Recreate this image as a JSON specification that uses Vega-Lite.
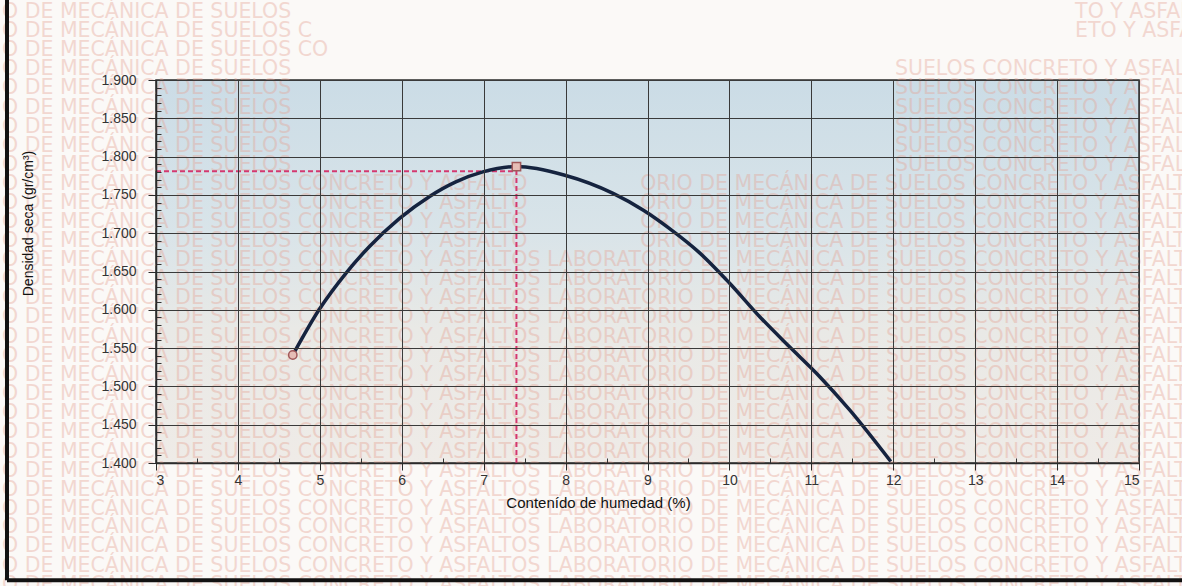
{
  "$schema": "https://vega.github.io/schema/vega-lite/v6.json",
  "width": 983,
  "height": 383,
  "autosize": {"type": "none"},
  "padding": {"left": 156, "top": 80, "right": 43, "bottom": 123},
  "background": "#fbf9f7",
  "config": {
    "view": {
      "fill": {
        "gradient": "linear", "x1": 0, "y1": 0, "x2": 0, "y2": 1,
        "stops": [
          {"offset": 0, "color": "#cbdce6"},
          {"offset": 0.4, "color": "#d9e4e9"},
          {"offset": 0.65, "color": "#e9e9e6"},
          {"offset": 1, "color": "#efebe7"}
        ]
      },
      "stroke": "#2b2b2b",
      "strokeWidth": 1.5
    }
  },
  "datasets": {
    "curva": [
      {"humedad": 4.67, "densidad": 1.541},
      {"humedad": 4.99, "densidad": 1.600},
      {"humedad": 5.32, "densidad": 1.648},
      {"humedad": 5.60, "densidad": 1.682},
      {"humedad": 5.97, "densidad": 1.719},
      {"humedad": 6.34, "densidad": 1.748},
      {"humedad": 6.66, "densidad": 1.767},
      {"humedad": 6.99, "densidad": 1.780},
      {"humedad": 7.40, "densidad": 1.787},
      {"humedad": 7.98, "densidad": 1.776},
      {"humedad": 8.58, "densidad": 1.752},
      {"humedad": 8.95, "densidad": 1.730},
      {"humedad": 9.27, "densidad": 1.706},
      {"humedad": 9.64, "densidad": 1.674},
      {"humedad": 10.00, "densidad": 1.635},
      {"humedad": 10.37, "densidad": 1.591},
      {"humedad": 10.74, "densidad": 1.551},
      {"humedad": 11.10, "densidad": 1.513},
      {"humedad": 11.47, "densidad": 1.469},
      {"humedad": 11.97, "densidad": 1.402}
    ],
    "puntos": [
      {"humedad": 4.67, "densidad": 1.541, "tipo": "inicio"},
      {"humedad": 7.40, "densidad": 1.787, "tipo": "máximo"}
    ],
    "guias": [
      {"x1": 3.0, "x2": 7.40, "y1": 1.781, "y2": 1.781},
      {"x1": 7.40, "x2": 7.40, "y1": 1.400, "y2": 1.787}
    ],
    "marco": [
      {"x1": 1.181, "x2": 1.181, "y1": 2.01, "y2": 1.247},
      {"x1": 1.181, "x2": 15.62, "y1": 1.247, "y2": 1.247}
    ],
    "sello": [
      {"x": 1.12, "y": 1.989, "t": "O DE MECÁNICA DE SUELOS"},
      {"x": 14.22, "y": 1.989, "t": "TO Y ASFALTOS"},
      {"x": 1.12, "y": 1.964, "t": "O DE MECÁNICA DE SUELOS C"},
      {"x": 14.22, "y": 1.964, "t": "ETO Y ASFALTOS"},
      {"x": 1.12, "y": 1.939, "t": "O DE MECÁNICA DE SUELOS CO"},
      {"x": 1.12, "y": 1.914, "t": "O DE MECÁNICA DE SUELOS"},
      {"x": 12.02, "y": 1.914, "t": "SUELOS CONCRETO Y ASFALTOS"},
      {"x": 1.12, "y": 1.889, "t": "O DE MECÁNICA DE SUELOS"},
      {"x": 12.02, "y": 1.889, "t": "SUELOS CONCRETO Y ASFALTOS"},
      {"x": 1.12, "y": 1.864, "t": "O DE MECÁNICA DE SUELOS"},
      {"x": 12.02, "y": 1.864, "t": "SUELOS CONCRETO Y ASFALTOS"},
      {"x": 1.12, "y": 1.839, "t": "O DE MECÁNICA DE SUELOS"},
      {"x": 12.02, "y": 1.839, "t": "SUELOS CONCRETO Y ASFALTOS"},
      {"x": 1.12, "y": 1.814, "t": "O DE MECÁNICA DE SUELOS"},
      {"x": 12.02, "y": 1.814, "t": "SUELOS CONCRETO Y ASFALTOS"},
      {"x": 1.12, "y": 1.789, "t": "O DE MECÁNICA DE SUELOS"},
      {"x": 12.02, "y": 1.789, "t": "SUELOS CONCRETO Y ASFALTOS"},
      {"x": 1.12, "y": 1.764, "t": "O DE MECÁNICA DE SUELOS CONCRETO Y ASFALTO"},
      {"x": 8.91, "y": 1.764, "t": "ORIO DE MECÁNICA DE SUELOS CONCRETO Y ASFALTOS"},
      {"x": 1.12, "y": 1.739, "t": "O DE MECÁNICA DE SUELOS CONCRETO Y ASFALTO"},
      {"x": 8.91, "y": 1.739, "t": "ORIO DE MECÁNICA DE SUELOS CONCRETO Y ASFALTOS"},
      {"x": 1.12, "y": 1.715, "t": "O DE MECÁNICA DE SUELOS CONCRETO Y ASFALTO"},
      {"x": 8.91, "y": 1.715, "t": "ORIO DE MECÁNICA DE SUELOS CONCRETO Y ASFALTOS"},
      {"x": 1.12, "y": 1.690, "t": "O DE MECÁNICA DE SUELOS CONCRETO Y ASFALTO"},
      {"x": 8.91, "y": 1.690, "t": "ORIO DE MECÁNICA DE SUELOS CONCRETO Y ASFALTOS"},
      {"x": 1.12, "y": 1.665, "t": "O DE MECÁNICA DE SUELOS CONCRETO Y ASFALTOS LABORATORIO DE MECÁNICA DE SUELOS CONCRETO Y ASFALTOS"},
      {"x": 1.12, "y": 1.640, "t": "O DE MECÁNICA DE SUELOS CONCRETO Y ASFALTOS LABORATORIO DE MECÁNICA DE SUELOS CONCRETO Y ASFALTOS"},
      {"x": 1.12, "y": 1.615, "t": "O DE MECÁNICA DE SUELOS CONCRETO Y ASFALTOS LABORATORIO DE MECÁNICA DE SUELOS CONCRETO Y ASFALTOS"},
      {"x": 1.12, "y": 1.590, "t": "O DE MECÁNICA DE SUELOS CONCRETO Y ASFALTOS LABORATORIO DE MECÁNICA DE SUELOS CONCRETO Y ASFALTOS"},
      {"x": 1.12, "y": 1.565, "t": "O DE MECÁNICA DE SUELOS CONCRETO Y ASFALTOS LABORATORIO DE MECÁNICA DE SUELOS CONCRETO Y ASFALTOS"},
      {"x": 1.12, "y": 1.540, "t": "O DE MECÁNICA DE SUELOS CONCRETO Y ASFALTOS LABORATORIO DE MECÁNICA DE SUELOS CONCRETO Y ASFALTOS"},
      {"x": 1.12, "y": 1.515, "t": "O DE MECÁNICA DE SUELOS CONCRETO Y ASFALTOS LABORATORIO DE MECÁNICA DE SUELOS CONCRETO Y ASFALTOS"},
      {"x": 1.12, "y": 1.490, "t": "O DE MECÁNICA DE SUELOS CONCRETO Y ASFALTOS LABORATORIO DE MECÁNICA DE SUELOS CONCRETO Y ASFALTOS"},
      {"x": 1.12, "y": 1.465, "t": "O DE MECÁNICA DE SUELOS CONCRETO Y ASFALTOS LABORATORIO DE MECÁNICA DE SUELOS CONCRETO Y ASFALTOS"},
      {"x": 1.12, "y": 1.440, "t": "O DE MECÁNICA DE SUELOS CONCRETO Y ASFALTOS LABORATORIO DE MECÁNICA DE SUELOS CONCRETO Y ASFALTOS"},
      {"x": 1.12, "y": 1.415, "t": "O DE MECÁNICA DE SUELOS CONCRETO Y ASFALTOS LABORATORIO DE MECÁNICA DE SUELOS CONCRETO Y ASFALTOS"},
      {"x": 1.12, "y": 1.390, "t": "O DE MECÁNICA DE SUELOS CONCRETO Y ASFALTOS LABORATORIO DE MECÁNICA DE SUELOS CONCRETO Y ASFALTOS"},
      {"x": 1.12, "y": 1.365, "t": "O DE MECÁNICA DE SUELOS CONCRETO Y ASFALTOS LABORATORIO DE MECÁNICA DE SUELOS CONCRETO Y ASFALTOS"},
      {"x": 1.12, "y": 1.340, "t": "O DE MECÁNICA DE SUELOS CONCRETO Y ASFALTOS LABORATORIO DE MECÁNICA DE SUELOS CONCRETO Y ASFALTOS"},
      {"x": 1.12, "y": 1.316, "t": "O DE MECÁNICA DE SUELOS CONCRETO Y ASFALTOS LABORATORIO DE MECÁNICA DE SUELOS CONCRETO Y ASFALTOS"},
      {"x": 1.12, "y": 1.291, "t": "O DE MECÁNICA DE SUELOS CONCRETO Y ASFALTOS LABORATORIO DE MECÁNICA DE SUELOS CONCRETO Y ASFALTOS"},
      {"x": 1.12, "y": 1.266, "t": "O DE MECÁNICA DE SUELOS CONCRETO Y ASFALTOS LABORATORIO DE MECÁNICA DE SUELOS CONCRETO Y ASFALTOS"},
      {"x": 1.12, "y": 1.241, "t": "O DE MECÁNICA DE SUELOS CONCRETO Y ASFALTOS LABORATORIO DE MECÁNICA DE SUELOS CONCRETO Y ASFALTOS"}
    ]
  },
  "resolve": {"axis": {"x": "independent", "y": "independent"}},
  "layer": [
    {
      "data": {"name": "sello"},
      "mark": {"type": "text", "align": "left", "baseline": "middle", "font": "DejaVu Sans", "fontWeight": "normal", "fontSize": 20.5, "fill": "#e5a293", "opacity": 0.38, "clip": false},
      "encoding": {
        "x": {"field": "x", "type": "quantitative", "scale": {"domain": [3, 15], "nice": false, "zero": false}, "axis": null},
        "y": {"field": "y", "type": "quantitative", "scale": {"domain": [1.4, 1.9], "nice": false, "zero": false}, "axis": null},
        "text": {"field": "t"}
      }
    },
    {
      "data": {"name": "marco"},
      "mark": {"type": "rule", "color": "#121212", "strokeWidth": 4, "clip": false},
      "encoding": {
        "x": {"field": "x1", "type": "quantitative", "axis": null},
        "x2": {"field": "x2"},
        "y": {"field": "y1", "type": "quantitative", "axis": null},
        "y2": {"field": "y2"}
      }
    },
    {
      "data": {"name": "guias"},
      "mark": {"type": "rule", "color": "#d4386f", "strokeWidth": 2, "strokeDash": [5, 3]},
      "encoding": {
        "x": {
          "field": "x1", "type": "quantitative",
          "axis": {
            "orient": "top", "offset": -383,
            "values": [3.5, 4.5, 5.5, 6.5, 7.5, 8.5, 9.5, 10.5, 11.5, 12.5, 13.5, 14.5],
            "labels": false, "grid": false, "domain": false,
            "ticks": true, "tickSize": 5, "tickColor": "#333333", "tickWidth": 1,
            "title": null, "zindex": 1
          }
        },
        "x2": {"field": "x2"},
        "y": {
          "field": "y1", "type": "quantitative",
          "axis": {
            "orient": "right", "offset": -983,
            "values": [1.41, 1.42, 1.43, 1.44, 1.46, 1.47, 1.48, 1.49, 1.51, 1.52, 1.53, 1.54, 1.56, 1.57, 1.58, 1.59, 1.61, 1.62, 1.63, 1.64, 1.66, 1.67, 1.68, 1.69, 1.71, 1.72, 1.73, 1.74, 1.76, 1.77, 1.78, 1.79, 1.81, 1.82, 1.83, 1.84, 1.86, 1.87, 1.88, 1.89],
            "labels": false, "grid": false, "domain": false,
            "ticks": true, "tickSize": 5, "tickColor": "#333333", "tickWidth": 1,
            "title": null, "zindex": 1
          }
        },
        "y2": {"field": "y2"}
      }
    },
    {
      "data": {"name": "curva"},
      "mark": {"type": "line", "interpolate": "monotone", "color": "#15233f", "strokeWidth": 3.5},
      "encoding": {
        "x": {
          "field": "humedad", "type": "quantitative",
          "axis": {
            "values": [3, 4, 5, 6, 7, 8, 9, 10, 11, 12, 13, 14, 15],
            "grid": true, "gridColor": "#3a3a3a", "gridWidth": 1,
            "domainColor": "#2b2b2b", "domainWidth": 1.5,
            "tickColor": "#2b2b2b", "tickSize": 7, "tickWidth": 1,
            "labelFont": "Liberation Sans", "labelFontSize": 14, "labelColor": "#333333",
            "labelPadding": 3, "labelDx": 2,
            "title": "Contenído de humedad (%)",
            "titleFont": "Liberation Sans", "titleFontSize": 15, "titleFontWeight": "normal",
            "titleColor": "#111111", "titleX": 442, "titleY": 39, "titleBaseline": "middle",
            "zindex": 1
          }
        },
        "y": {
          "field": "densidad", "type": "quantitative",
          "axis": {
            "values": [1.4, 1.45, 1.5, 1.55, 1.6, 1.65, 1.7, 1.75, 1.8, 1.85, 1.9],
            "format": ".3f",
            "grid": true, "gridColor": "#3a3a3a", "gridWidth": 1,
            "domainColor": "#2b2b2b", "domainWidth": 1.5,
            "tickColor": "#2b2b2b", "tickSize": 8, "tickWidth": 1,
            "labelFont": "Liberation Sans", "labelFontSize": 14, "labelColor": "#333333",
            "labelPadding": 12,
            "title": "Densidad seca (gr/cm³)",
            "titleFont": "Liberation Sans", "titleFontSize": 14, "titleFontWeight": "normal",
            "titleColor": "#111111", "titleX": -128, "titleY": 143, "titleBaseline": "middle",
            "zindex": 1
          }
        }
      }
    },
    {
      "data": {"name": "puntos"},
      "mark": {"type": "point", "filled": true, "fill": "#e6bdb6", "stroke": "#a0585a", "strokeWidth": 1.5, "size": 70, "opacity": 1},
      "encoding": {
        "x": {"field": "humedad", "type": "quantitative", "axis": null},
        "y": {"field": "densidad", "type": "quantitative", "axis": null},
        "shape": {"field": "tipo", "type": "nominal", "scale": {"domain": ["inicio", "máximo"], "range": ["circle", "square"]}, "legend": null}
      }
    }
  ]
}
